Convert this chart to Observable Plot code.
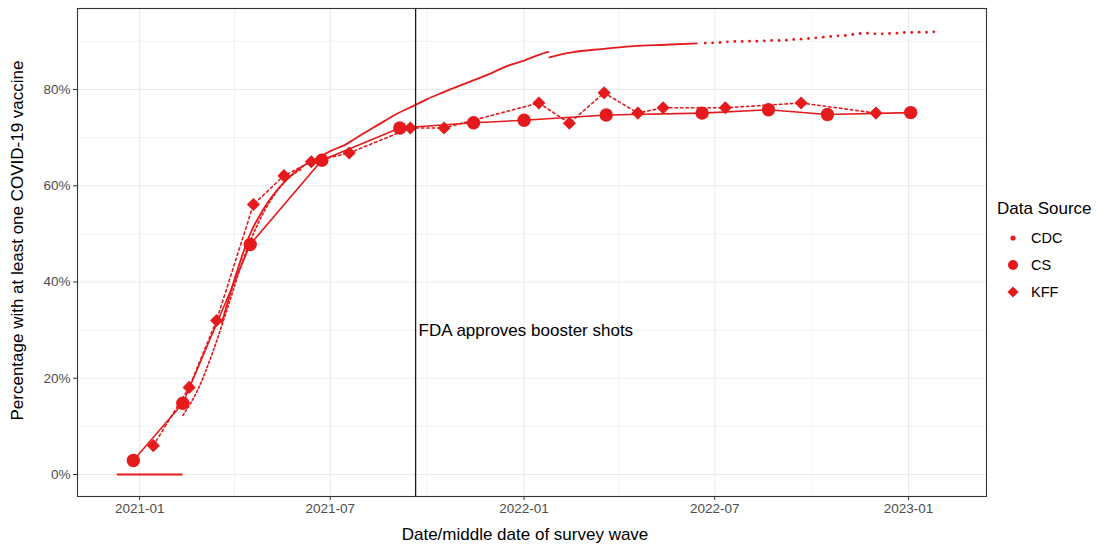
<!DOCTYPE html>
<html>
<head>
<meta charset="utf-8">
<script src="https://cdn.jsdelivr.net/npm/d3@7"></script>
<script src="https://cdn.jsdelivr.net/npm/@observablehq/plot@0.6"></script>
<style>
  body { margin: 0; background: #fff; font-family: "Liberation Sans", Arial, sans-serif; }
  #wrap { position: relative; width: 1096px; height: 548px; }
  #wrap svg text { font-family: "Liberation Sans", Arial, sans-serif; }
  [aria-label="x-axis tick label"] text, [aria-label="y-axis tick label"] text { fill: #4D4D4D; }
  [aria-label="x-axis tick"], [aria-label="y-axis tick"] { stroke: #333333; }
  #legend { position: absolute; left: 997px; top: 198px; color: #000; }
  #legend .title { font-size: 17px; line-height: 22px; margin-bottom: 4px; }
  #legend .row { display: flex; align-items: center; height: 27px; font-size: 14.5px; }
  #legend .row svg { width: 34px; height: 20px; }
</style>
</head>
<body>
<div id="wrap"></div>
<script>
// ---------- data ----------
const csDates  = ["2020-12-26","2021-02-11","2021-04-16","2021-06-23","2021-09-05","2021-11-14","2022-01-01","2022-03-20","2022-06-19","2022-08-21","2022-10-16","2023-01-03"];
const csValues = [2.9, 14.8, 47.8, 65.3, 72.0, 73.1, 73.6, 74.7, 75.1, 75.8, 74.8, 75.2];

const kffDates  = ["2021-01-14","2021-02-17","2021-03-15","2021-04-19","2021-05-18","2021-06-13","2021-07-19","2021-09-15","2021-10-17","2022-01-15","2022-02-13","2022-03-18","2022-04-19","2022-05-13","2022-07-11","2022-09-21","2022-12-01"];
const kffValues = [6.0, 18.1, 32.0, 56.1, 62.1, 65.0, 66.8, 72.0, 72.0, 77.2, 73.0, 79.3, 75.1, 76.2, 76.2, 77.2, 75.1];

// CDC: period before reporting (zeros)
const cdcZeroDates  = ["2020-12-11","2021-02-10"];
const cdcZeroValues = [0, 0];
// CDC: early sparse reports (dotted)
const cdcEarlyDates  = ["2021-02-11","2021-02-25","2021-03-12","2021-03-26","2021-04-09","2021-04-23","2021-05-07","2021-05-21","2021-06-04"];
const cdcEarlyValues = [12.3, 17.5, 25.8, 35.0, 44.5, 52.0, 57.5, 61.3, 63.5];
// CDC: daily reports, first run
const cdcDaily1Dates  = ["2021-03-20","2021-04-01","2021-04-15","2021-05-01","2021-05-15","2021-06-01","2021-06-15","2021-07-01","2021-07-15","2021-08-01","2021-08-15","2021-09-01","2021-09-20","2021-10-01","2021-10-15","2021-11-01","2021-11-15","2021-12-01","2021-12-15","2022-01-01","2022-01-15","2022-01-24"];
const cdcDaily1Values = [31.5, 40.5, 49.5, 56.0, 60.0, 63.5, 65.3, 67.2, 68.5, 70.8, 72.6, 74.8, 76.8, 78.0, 79.3, 80.8, 82.0, 83.4, 84.8, 86.0, 87.2, 87.8];
// CDC: daily reports, after revision
const cdcDaily2Dates  = ["2022-01-25","2022-02-15","2022-03-15","2022-04-15","2022-05-15","2022-06-14"];
const cdcDaily2Values = [86.7, 87.7, 88.4, 89.0, 89.3, 89.6];
// CDC: weekly reports
const cdcWeeklyDates  = ["2022-06-22","2022-06-29","2022-07-06","2022-07-13","2022-07-20","2022-07-27","2022-08-03","2022-08-10","2022-08-17","2022-08-24","2022-08-31","2022-09-07","2022-09-14","2022-09-21","2022-09-28","2022-10-05","2022-10-12","2022-10-19","2022-10-26","2022-11-02","2022-11-09","2022-11-16","2022-11-23","2022-11-30","2022-12-07","2022-12-14","2022-12-21","2022-12-28","2023-01-04","2023-01-11","2023-01-18","2023-01-25"];
const cdcWeeklyValues = [89.65, 89.70, 89.77, 89.90, 89.97, 89.97, 90.04, 90.04, 90.11, 90.18, 90.18, 90.25, 90.39, 90.46, 90.60, 90.74, 90.87, 91.01, 91.15, 91.22, 91.43, 91.64, 91.71, 91.57, 91.57, 91.64, 91.71, 91.84, 91.84, 91.91, 91.91, 91.98];

const fdaDate = "2021-09-20";
const fdaLabel = "FDA approves booster shots";
const fdaLabelValue = 30;

const xMajorTicks = ["2021-01-01","2021-07-01","2022-01-01","2022-07-01","2023-01-01"];
const xMinorTicks = ["2021-04-01","2021-10-01","2022-04-01","2022-10-01"];
const yMajorTicks = [0, 20, 40, 60, 80];
const yMinorTicks = [10, 30, 50, 70, 90];
const xDomain = ["2020-11-03","2023-03-16"];
const yDomain = [-4.57, 96.83];

const legendItems = ["CDC", "CS", "KFF"];
const xTitle = "Date/middle date of survey wave";
const yTitle = "Percentage with at least one COVID-19 vaccine";
const legendTitle = "Data Source";

// ---------- build ----------
const red = "#E41A1C";
const parse = d3.utcParse("%Y-%m-%d");
const rows = (dates, values) => dates.map((d, i) => ({date: parse(d), value: values[i]}));

const cs = rows(csDates, csValues);
const kff = rows(kffDates, kffValues);
const cdcZero = rows(cdcZeroDates, cdcZeroValues);
const cdcEarly = rows(cdcEarlyDates, cdcEarlyValues);
const cdcDaily1 = rows(cdcDaily1Dates, cdcDaily1Values);
const cdcDaily2 = rows(cdcDaily2Dates, cdcDaily2Values);
const cdcWeekly = rows(cdcWeeklyDates, cdcWeeklyValues);

const chart = Plot.plot({
  width: 1096,
  height: 548,
  marginLeft: 77,
  marginRight: 110,
  marginTop: 8,
  marginBottom: 52,
  style: {fontFamily: "Liberation Sans, Arial, sans-serif", fontSize: "13.5px", background: "#fff", color: "#333"},
  x: {type: "utc", domain: xDomain.map(parse)},
  y: {domain: yDomain},
  marks: [
    Plot.ruleX(xMinorTicks.map(parse), {stroke: "#EBEBEB", strokeWidth: 0.6}),
    Plot.ruleY(yMinorTicks, {stroke: "#EBEBEB", strokeWidth: 0.6}),
    Plot.ruleX(xMajorTicks.map(parse), {stroke: "#EBEBEB", strokeWidth: 1.1}),
    Plot.ruleY(yMajorTicks, {stroke: "#EBEBEB", strokeWidth: 1.1}),
    Plot.axisX(xMajorTicks.map(parse), {tickFormat: d3.utcFormat("%Y-%m"), tickSize: 4, tickPadding: 3, label: null, fontSize: 13.5}),
    Plot.axisY(yMajorTicks, {tickFormat: d => d + "%", tickSize: 4, tickPadding: 3, label: null, fontSize: 13.5}),
    // CDC
    Plot.line(cdcZero, {x: "date", y: "value", stroke: red, strokeWidth: 1.9}),
    Plot.line(cdcEarly, {x: "date", y: "value", stroke: red, strokeWidth: 1.7, strokeDasharray: "2,2.5", curve: "monotone-x"}),
    Plot.line(cdcDaily1, {x: "date", y: "value", stroke: red, strokeWidth: 1.8, curve: "monotone-x"}),
    Plot.line(cdcDaily2, {x: "date", y: "value", stroke: red, strokeWidth: 1.8, curve: "monotone-x"}),
    Plot.dot(cdcWeekly, {x: "date", y: "value", r: 1.4, fill: red}),
    // CS
    Plot.line(cs, {x: "date", y: "value", stroke: red, strokeWidth: 1.6}),
    Plot.dot(cs, {x: "date", y: "value", r: 6.7, fill: red, symbol: "circle"}),
    // KFF
    Plot.line(kff, {x: "date", y: "value", stroke: red, strokeWidth: 1.6, strokeDasharray: "2.5,3"}),
    Plot.dot(kff, {x: "date", y: "value", r: 5.9, fill: red, symbol: "diamond2"}),
    // FDA
    Plot.ruleX([parse(fdaDate)], {stroke: "#1a1a1a", strokeWidth: 1.3}),
    Plot.text([fdaLabel], {x: parse(fdaDate), y: fdaLabelValue, text: d => d, dx: 3, textAnchor: "start", fontSize: 17, fill: "#000"}),
    Plot.frame({stroke: "#333333", strokeWidth: 1.1}),
    // axis titles
    Plot.text([xTitle], {frameAnchor: "bottom", text: d => d, dy: 43, dx: -7, textAnchor: "middle", fontSize: 17, fill: "#000"}),
    Plot.text([yTitle], {frameAnchor: "left", text: d => d, dx: -60, dy: -12, textAnchor: "middle", rotate: -90, fontSize: 17, fill: "#000"})
  ]
});
document.getElementById("wrap").appendChild(chart);

// legend (HTML, beside the plot)
const legend = document.createElement("div");
legend.id = "legend";
const symbols = {
  CDC: `<circle cx="16" cy="10" r="2.6" fill="${red}"/>`,
  CS: `<circle cx="16" cy="10" r="5" fill="${red}"/>`,
  KFF: `<path d="M16,4.5 L21.5,10 L16,15.5 L10.5,10 Z" fill="${red}"/>`
};
legend.innerHTML = `<div class="title">${legendTitle}</div>` +
  legendItems.map(k => `<div class="row"><svg viewBox="0 0 34 20">${symbols[k]}</svg><span>${k}</span></div>`).join("");
document.getElementById("wrap").appendChild(legend);
</script>
</body>
</html>
